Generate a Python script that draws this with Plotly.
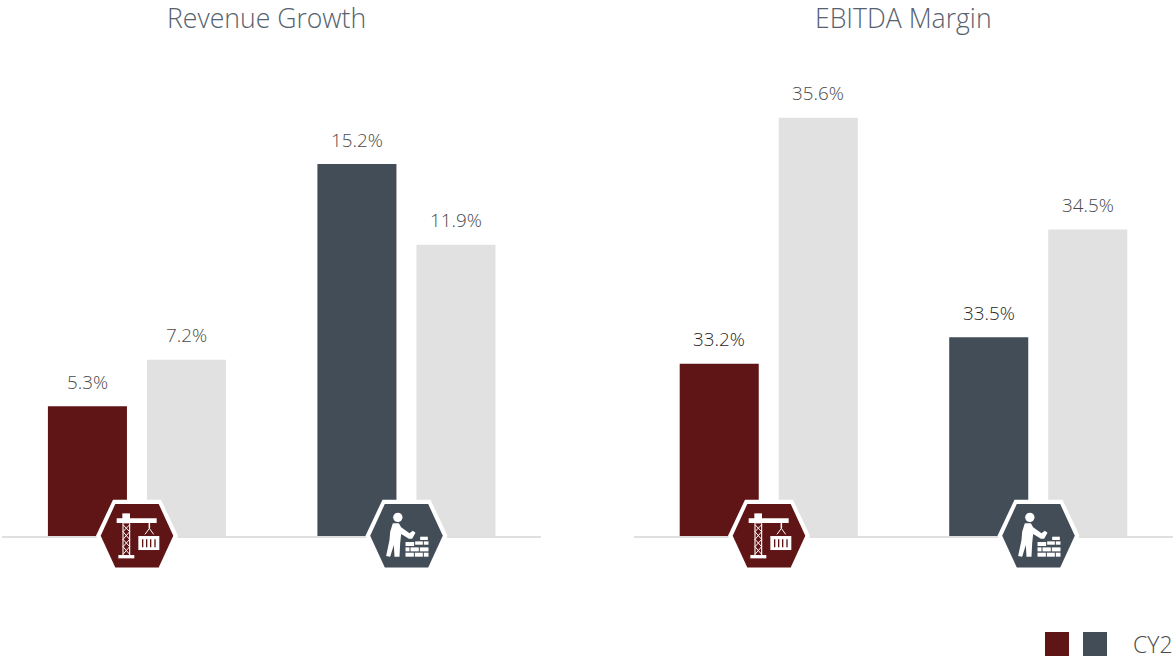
import plotly.graph_objects as go

W, H = 1173, 659
groups = ["Infrastructure", "Building"]
growth_current = [5.3, 15.2]
growth_prior = [7.2, 11.9]
margin_current = [33.2, 33.46]
margin_prior = [35.6, 34.51]
growth_current_labels = ["5.3%", "15.2%"]
growth_prior_labels = ["7.2%", "11.9%"]
margin_current_labels = ["33.2%", "33.5%"]
margin_prior_labels = ["35.6%", "34.5%"]
titles = ["Revenue Growth", "EBITDA Margin"]
legend_text = "CY2"

RED, SLATE, GREY = "#5f1416", "#434d58", "#e1e1e1"
TITLE_C, LABEL_C, DARK_LABEL_C = "#56626f", "#4a4a4a", "#262626"
FONT = "Open Sans"


def px(x):
    return x / W


def py(y):
    return 1 - y / H


def path(points, close=True):
    s = "M " + " L ".join(f"{px(x):.5f},{py(y):.5f}" for x, y in points)
    return s + (" Z" if close else "")


def shape_poly(points, color):
    return dict(type="path", xref="paper", yref="paper", path=path(points),
                fillcolor=color, line=dict(width=0), layer="above")


def shape_line(points, color, w):
    return dict(type="path", xref="paper", yref="paper", path=path(points, False),
                line=dict(color=color, width=w), layer="above")


def rect(x0, y0, x1, y1):
    return [(x0, y0), (x1, y0), (x1, y1), (x0, y1)]


def hexagon(cx, cy, hw, tw, hh):
    return [(cx - tw, cy - hh), (cx + tw, cy - hh), (cx + hw, cy), (cx + tw, cy + hh),
            (cx - tw, cy + hh), (cx - hw, cy)]


def crane(cx, cy, color):
    c = lambda a, b: (cx + (a - 141) / 3, cy + (b - 137) / 3)
    R = lambda a0, b0, a1, b1: shape_poly([c(a0, b0), c(a1, b0), c(a1, b1), c(a0, b1)], "white")
    out = [R(97, 70, 120, 100), R(80, 85, 200, 99), R(85, 195, 133, 205),
           R(145, 138, 208, 180)]
    out += [shape_line([c(99, 100), c(99, 195)], "white", 1.1),
            shape_line([c(119, 100), c(119, 195)], "white", 1.1),
            shape_line([c(99, 104), c(119, 125), c(99, 148), c(119, 170), c(99, 193)], "white", 1),
            shape_line([c(119, 104), c(99, 125), c(119, 148), c(99, 170), c(119, 193)], "white", 1),
            shape_line([c(178, 99), c(178, 115)], "white", 1.5),
            shape_line([c(165, 133), c(178, 115), c(191, 133)], "white", 1)]
    for a in (158, 170, 182, 195):
        out.append(shape_poly([c(a - 2, 148), c(a + 2, 148), c(a + 2, 172), c(a - 2, 172)], color))
    return out


def worker(cx, cy, color):
    c = lambda a, b: (cx + (a - 141) / 3, cy + (b - 137) / 3)
    head = dict(type="circle", xref="paper", yref="paper", x0=px(c(101, 0)[0]), x1=px(c(129, 0)[0]),
                y0=py(c(0, 96)[1]), y1=py(c(0, 68)[1]), fillcolor="white", line=dict(width=0), layer="above")
    body = [(100, 100), (118, 100), (125, 112), (150, 130), (160, 122), (168, 128), (158, 146),
            (148, 146), (125, 132), (122, 160), (120, 200), (105, 200), (103, 165), (92, 200),
            (80, 198), (90, 150), (92, 125)]
    out = [head, shape_poly([c(*p) for p in body], "white")]
    bricks = [(182, 140, 205, 150), (167, 154, 190, 164), (193, 154, 207, 164),
              (138, 156, 164, 168), (138, 172, 150, 184), (153, 172, 178, 184), (181, 172, 207, 184),
              (138, 188, 163, 200), (166, 188, 190, 200), (193, 188, 207, 200)]
    for a0, b0, a1, b1 in bricks:
        out.append(shape_poly([c(a0, b0), c(a1, b0), c(a1, b1), c(a0, b1)], "white"))
    return out


AX_Y = 536
L0, L1 = 2.2, 541.2
R0, R1 = 634.0, 1173.0
top_dom = 1.0
bot_dom = (H - AX_Y) / H
g_scale = 24.47
m_scale = 102.5
m_base = 31.52

fig = go.Figure()
common = dict(showlegend=False, hoverinfo="skip", cliponaxis=True, marker_line_width=0)
fig.add_bar(x=groups, y=growth_current, marker_color=[RED, SLATE], xaxis="x", yaxis="y", offsetgroup="a", **common)
fig.add_bar(x=groups, y=growth_prior, marker_color=GREY, xaxis="x", yaxis="y", offsetgroup="b", **common)
fig.add_bar(x=groups, y=margin_current, marker_color=[RED, SLATE], xaxis="x2", yaxis="y2", offsetgroup="a", **common)
fig.add_bar(x=groups, y=margin_prior, marker_color=GREY, xaxis="x2", yaxis="y2", offsetgroup="b", **common)

annotations = []


def add_labels(xref, yref, vals, labels, shift, colors, weight, yshift=24.5):
    for g, v, t, col in zip(groups, vals, labels, colors):
        annotations.append(dict(x=g, y=v, xref=xref, yref=yref, text=t, showarrow=False, xshift=shift,
                                yshift=yshift, yanchor="middle", xanchor="center",
                                font=dict(family=FONT, size=18.8, color=col, weight=weight)))


add_labels("x", "y", growth_current, growth_current_labels, -49.5, [LABEL_C] * 2, 300)
add_labels("x", "y", growth_prior, growth_prior_labels, 49.5, [LABEL_C] * 2, 300)
add_labels("x2", "y2", margin_current, margin_current_labels, -49.5, [DARK_LABEL_C] * 2, 300)
add_labels("x2", "y2", margin_prior, margin_prior_labels, 49.5, [LABEL_C] * 2, 300)

for t, cx in zip(titles, (266, 903.5)):
    annotations.append(dict(x=px(cx), y=py(18), xref="paper", yref="paper", text=t, showarrow=False,
                            xanchor="center", yanchor="middle",
                            font=dict(family=FONT, size=26.6, color=TITLE_C, weight=300)))
annotations.append(dict(x=px(1134), y=py(644), xref="paper", yref="paper", text=legend_text, showarrow=False,
                        xanchor="left", yanchor="middle", xshift=-3,
                        font=dict(family=FONT, size=23, color=LABEL_C, weight=300)))

shapes = []
CY = 535.7
for cx, col, icon in [(137, RED, crane), (406.5, SLATE, worker), (769, RED, crane), (1038.5, SLATE, worker)]:
    shapes.append(shape_poly(hexagon(cx, CY, 41, 24, 36), "white"))
    shapes.append(shape_poly(hexagon(cx, CY, 36.3, 21.7, 31.7), col))
    shapes += icon(cx, CY, col)
shapes.append(shape_poly(rect(1045, 632, 1069, 656), RED))
shapes.append(shape_poly(rect(1083, 632, 1107, 656), SLATE))

xcommon = dict(showgrid=False, zeroline=False, showticklabels=False, ticks="", showline=True,
               linecolor="#e0e0e0", linewidth=2, fixedrange=True)
ycommon = dict(visible=False, showgrid=False, zeroline=False, domain=[bot_dom, top_dom], fixedrange=True)

fig.update_layout(
    width=W, height=H, margin=dict(l=0, r=0, t=0, b=0), autosize=False,
    paper_bgcolor="white", plot_bgcolor="white", barmode="group",
    bargap=0.265, bargroupgap=0.202,
    xaxis=dict(domain=[px(L0), px(L1)], anchor="y", **xcommon),
    xaxis2=dict(domain=[px(R0), min(1, px(R1))], anchor="y2", **xcommon),
    yaxis=dict(range=[0, AX_Y / g_scale], anchor="x", **ycommon),
    yaxis2=dict(range=[m_base, m_base + AX_Y / m_scale], anchor="x2", **ycommon),
    annotations=annotations, shapes=shapes,
)
fig.write_html("out.html", post_script="document.body.style.margin='0';document.body.style.overflow='hidden';",
               config=dict(displayModeBar=False))
